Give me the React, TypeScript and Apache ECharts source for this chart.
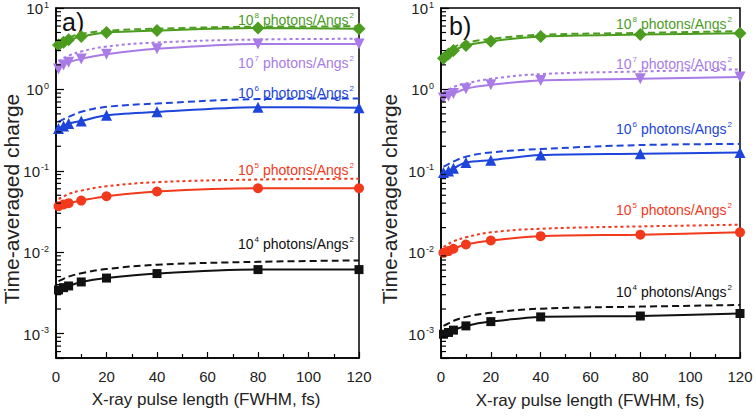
import React, { useEffect, useRef } from "react";
import * as echarts from "echarts";

// ---- data ----
const xValues = [1, 3, 5, 10, 20, 40, 80, 120];
const xTicks = [0, 20, 40, 60, 80, 100, 120];

const aBlack = [0.00343, 0.00366, 0.00384, 0.0043, 0.0048, 0.00545, 0.0061, 0.0061];
const aBlackModel = [0.0044, 0.0047, 0.005, 0.0055, 0.0062, 0.007, 0.0076, 0.0079];
const aRed = [0.0366, 0.0385, 0.04, 0.043, 0.0486, 0.0556, 0.061, 0.061];
const aRedModel = [0.045, 0.048, 0.052, 0.057, 0.0645, 0.0724, 0.078, 0.0796];
const aBlue = [0.33, 0.356, 0.38, 0.41, 0.48, 0.53, 0.605, 0.594];
const aBlueModel = [0.4, 0.43, 0.46, 0.53, 0.61, 0.67, 0.76, 0.774];
const aPurple = [1.78, 2.0, 2.15, 2.37, 2.7, 3.15, 3.6, 3.6];
const aPurpleModel = [2.2, 2.4, 2.6, 2.92, 3.36, 3.77, 4.1, 4.18];
const aGreen = [3.52, 3.8, 4.06, 4.47, 5.0, 5.3, 5.66, 5.56];
const aGreenModel = [3.95, 4.15, 4.35, 4.8, 5.25, 5.56, 5.9, 5.95];

const bBlack = [0.00098, 0.00103, 0.0011, 0.00124, 0.0014, 0.0016, 0.00164, 0.00176];
const bBlackModel = [0.00124, 0.00133, 0.00143, 0.0016, 0.0018, 0.00202, 0.00214, 0.00224];
const bRed = [0.0098, 0.0103, 0.011, 0.0124, 0.0139, 0.0157, 0.0164, 0.0175];
const bRedModel = [0.0115, 0.0126, 0.0136, 0.0152, 0.0175, 0.0194, 0.0207, 0.0217];
const bBlue = [0.095, 0.0995, 0.107, 0.126, 0.135, 0.156, 0.162, 0.168];
const bBlueModel = [0.112, 0.121, 0.13, 0.149, 0.168, 0.185, 0.207, 0.213];
const bPurple = [0.785, 0.83, 0.887, 1.02, 1.14, 1.29, 1.35, 1.42];
const bPurpleModel = [0.91, 0.99, 1.07, 1.18, 1.35, 1.54, 1.66, 1.76];
const bGreen = [2.42, 2.73, 3.0, 3.46, 3.91, 4.46, 4.71, 4.9];
const bGreenModel = [2.61, 2.95, 3.3, 3.73, 4.17, 4.68, 4.94, 5.18];

const fluenceExponents = ["4", "5", "6", "7", "8"];
const yMin = 0.0005;
const yMax = 10;
const yMinorTicks = [
  0.0006, 0.0007, 0.0008, 0.0009,
  0.002, 0.003, 0.004, 0.005, 0.006, 0.007, 0.008, 0.009,
  0.02, 0.03, 0.04, 0.05, 0.06, 0.07, 0.08, 0.09,
  0.2, 0.3, 0.4, 0.5, 0.6, 0.7, 0.8, 0.9,
  2, 3, 4, 5, 6, 7, 8, 9,
];

const FONT = "Liberation Sans, Arial, sans-serif";
const COLORS = {
  black: "#111111",
  red: "#f2391c",
  blue: "#1d45dc",
  purple: "#a87be6",
  green: "#4b9c1f",
};

function pts(arr: number[]) {
  return xValues.map((x, i) => [x, arr[i]]);
}

function solid(data: number[], color: string, symbol: string, size: number, gi: number, rotate = 0) {
  return {
    type: "line",
    xAxisIndex: gi,
    yAxisIndex: gi,
    data: pts(data),
    symbol,
    symbolSize: size,
    symbolRotate: rotate,
    smooth: 0.3,
    lineStyle: { color, width: 2 },
    itemStyle: { color },
    z: 4,
  };
}

function model(data: number[], color: string, dash: number[], gi: number) {
  return {
    type: "line",
    xAxisIndex: gi,
    yAxisIndex: gi,
    data: pts(data),
    symbol: "none",
    smooth: 0.4,
    lineStyle: { color, width: 2, type: dash },
    z: 3,
  };
}

function minorTickSeries(gi: number) {
  return {
    type: "custom",
    xAxisIndex: gi,
    yAxisIndex: gi,
    silent: true,
    clip: false,
    data: yMinorTicks.map((v) => [0, v]),
    renderItem: (params: any, api: any) => {
      const p = api.coord([api.value(0), api.value(1)]);
      return {
        type: "line",
        shape: { x1: p[0], y1: p[1], x2: p[0] + 5, y2: p[1] },
        style: { stroke: "#000", lineWidth: 1.2 },
      };
    },
    z: 5,
  };
}

const supRich = {
  b: { fontSize: 15, fontFamily: FONT, color: "#222", lineHeight: 16, verticalAlign: "bottom" },
  s: { fontSize: 9, fontFamily: FONT, color: "#222", lineHeight: 16, verticalAlign: "top", padding: [0, 0, 0, 1] },
};

function labelRich(color: string) {
  return {
    n: { fontSize: 14, fontFamily: FONT, fill: color, lineHeight: 16, verticalAlign: "bottom" },
    s: { fontSize: 8, fontFamily: FONT, fill: color, lineHeight: 16, verticalAlign: "top", padding: [0, 0, 0, 1] },
  };
}

function fluenceLabel(exp: string, color: string, x: number, y: number) {
  return {
    type: "text",
    x,
    y,
    style: {
      text: `{n|10}{s|${exp}}{n| photons/Angs}{s|2}`,
      align: "right",
      verticalAlign: "middle",
      rich: labelRich(color),
    },
    z: 10,
  };
}

function xAxis(gi: number) {
  return {
    type: "value",
    gridIndex: gi,
    min: xTicks[0],
    max: xTicks[xTicks.length - 1],
    interval: 20,
    axisLine: { show: true, lineStyle: { color: "#000", width: 1.5 } },
    axisTick: { show: true, inside: true, length: 6, lineStyle: { color: "#000", width: 1.2 } },
    minorTick: { show: true, splitNumber: 2, length: 4, lineStyle: { color: "#000", width: 1.2 } },
    splitLine: { show: false },
    axisLabel: { fontSize: 15, fontFamily: FONT, color: "#222", margin: 11 },
  };
}

function yAxis(gi: number) {
  return {
    type: "log",
    logBase: 10,
    gridIndex: gi,
    min: yMin,
    max: yMax,
    axisLine: { show: true, lineStyle: { color: "#000", width: 1.5 } },
    axisTick: { show: true, inside: true, length: 8, lineStyle: { color: "#000", width: 1.2 } },
    splitLine: { show: false },
    axisLabel: {
      margin: 7,
      formatter: (v: number) => {
        const e = Math.log10(v);
        if (Math.abs(e - Math.round(e)) > 1e-6) return "";
        return `{b|10}{s|${Math.round(e)}}`;
      },
      rich: supRich,
    },
  };
}

export default function App() {
  const ref = useRef<HTMLDivElement>(null);
  useEffect(() => {
    if (!ref.current) return;
    const chart = echarts.init(ref.current, null, { renderer: "svg" });
    const option: any = {
      animation: false,
      backgroundColor: "#ffffff",
      grid: [
        { left: 56, top: 8, width: 303, height: 350, show: true, borderColor: "#000", borderWidth: 1.5, backgroundColor: "transparent" },
        { left: 441, top: 8, width: 299, height: 350, show: true, borderColor: "#000", borderWidth: 1.5, backgroundColor: "transparent" },
      ],
      xAxis: [xAxis(0), xAxis(1)],
      yAxis: [yAxis(0), yAxis(1)],
      series: [
        model(aBlackModel, COLORS.black, [7, 4], 0),
        model(aRedModel, COLORS.red, [3, 3], 0),
        model(aBlueModel, COLORS.blue, [7, 4], 0),
        model(aPurpleModel, COLORS.purple, [3, 3], 0),
        model(aGreenModel, COLORS.green, [7, 4], 0),
        solid(aBlack, COLORS.black, "rect", 9, 0),
        solid(aRed, COLORS.red, "circle", 10, 0),
        solid(aBlue, COLORS.blue, "triangle", 11, 0),
        solid(aPurple, COLORS.purple, "triangle", 11, 0, 180),
        solid(aGreen, COLORS.green, "diamond", 13, 0),
        model(bBlackModel, COLORS.black, [7, 4], 1),
        model(bRedModel, COLORS.red, [3, 3], 1),
        model(bBlueModel, COLORS.blue, [7, 4], 1),
        model(bPurpleModel, COLORS.purple, [3, 3], 1),
        model(bGreenModel, COLORS.green, [7, 4], 1),
        solid(bBlack, COLORS.black, "rect", 9, 1),
        solid(bRed, COLORS.red, "circle", 10, 1),
        solid(bBlue, COLORS.blue, "triangle", 11, 1),
        solid(bPurple, COLORS.purple, "triangle", 11, 1, 180),
        solid(bGreen, COLORS.green, "diamond", 13, 1),
        minorTickSeries(0),
        minorTickSeries(1),
      ],
      graphic: [
        { type: "text", x: 62, y: 22, style: { text: "a)", fontSize: 25, fontFamily: FONT, fill: "#111", verticalAlign: "middle" } },
        { type: "text", x: 449, y: 26, style: { text: "b)", fontSize: 25, fontFamily: FONT, fill: "#111", verticalAlign: "middle" } },
        {
          type: "text", x: 11, y: 199, rotation: Math.PI / 2,
          style: { text: "Time-averaged charge", fontSize: 21, fontFamily: FONT, fill: "#222", align: "center", verticalAlign: "middle" },
        },
        {
          type: "text", x: 389, y: 199, rotation: Math.PI / 2,
          style: { text: "Time-averaged charge", fontSize: 21, fontFamily: FONT, fill: "#222", align: "center", verticalAlign: "middle" },
        },
        { type: "text", x: 206, y: 399, style: { text: "X-ray pulse length (FWHM, fs)", fontSize: 17, fontFamily: FONT, fill: "#222", align: "center", verticalAlign: "middle" } },
        { type: "text", x: 590, y: 400, style: { text: "X-ray pulse length (FWHM, fs)", fontSize: 17, fontFamily: FONT, fill: "#222", align: "center", verticalAlign: "middle" } },
        fluenceLabel(fluenceExponents[4], COLORS.green, 354, 19),
        fluenceLabel(fluenceExponents[3], COLORS.purple, 354, 62),
        fluenceLabel(fluenceExponents[2], COLORS.blue, 354, 92),
        fluenceLabel(fluenceExponents[1], COLORS.red, 354, 169),
        fluenceLabel(fluenceExponents[0], COLORS.black, 354, 243),
        fluenceLabel(fluenceExponents[4], COLORS.green, 732, 23),
        fluenceLabel(fluenceExponents[3], COLORS.purple, 732, 63),
        fluenceLabel(fluenceExponents[2], COLORS.blue, 732, 128),
        fluenceLabel(fluenceExponents[1], COLORS.red, 732, 209),
        fluenceLabel(fluenceExponents[0], COLORS.black, 732, 291),
      ],
    };
    chart.setOption(option);
    return () => chart.dispose();
  }, []);
  return <div ref={ref} style={{ position: "fixed", left: 0, top: 0, width: 756, height: 419 }} />;
}
